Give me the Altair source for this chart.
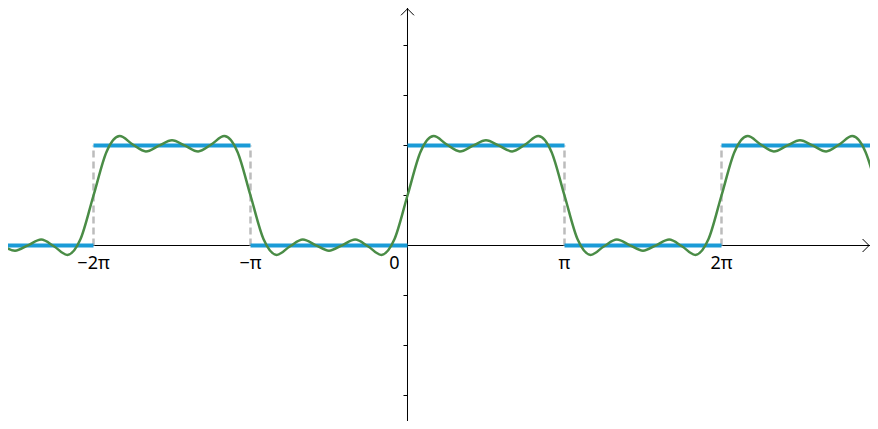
import altair as alt
import pandas as pd

# ---- data (x in units of pi) ----
# Fourier partial sum of the square wave, read at every pi/12 from -31/12 pi to 3 pi
curve_x = [k / 12 for k in range(-31, 37)]
curve_y = [
    0.002, -0.052, 0.002, 0.059, -0.010, -0.094, 0.062,
    0.5, 0.938, 1.094, 1.010, 0.941, 0.998, 1.052, 0.998, 0.941, 1.010, 1.094, 0.938,
    0.5, 0.062, -0.094, -0.010, 0.059, 0.002, -0.052, 0.002, 0.059, -0.010, -0.094, 0.062,
    0.5, 0.938, 1.094, 1.010, 0.941, 0.998, 1.052, 0.998, 0.941, 1.010, 1.094, 0.938,
    0.5, 0.062, -0.094, -0.010, 0.059, 0.002, -0.052, 0.002, 0.059, -0.010, -0.094, 0.062,
    0.5, 0.938, 1.094, 1.010, 0.941, 0.998, 1.052, 0.998, 0.941, 1.010, 1.094, 0.938,
    0.5,
]

# square wave pieces
seg_start = [-2.7, -2, -1, 0, 1, 2]
seg_end = [-2, -1, 0, 1, 2, 3.1]
seg_level = [0, 1, 0, 1, 0, 1]

# jumps (dashed)
jump_x = [-2, -1, 1, 2]

# axis labels
tick_x = [-2, -1, 1, 2]
tick_labels = ["−2π", "−π", "π", "2π"]
ytick_vals = [-1.5, -1.0, -0.5, 0.5, 1.0, 1.5, 2.0]

XDOM = [-2.5446, 2.9459]
YDOM = [-1.755, 2.375]

xs = alt.Scale(domain=XDOM, nice=False, zero=False)
ys = alt.Scale(domain=YDOM, nice=False, zero=False)

curve_df = pd.DataFrame({"x": curve_x, "y": curve_y})
seg_df = pd.DataFrame({"x": seg_start, "x2": seg_end, "y": seg_level})
jump_df = pd.DataFrame({"x": jump_x, "y": [0] * len(jump_x), "y2": [1] * len(jump_x)})
lab_df = pd.DataFrame({"x": tick_x, "y": [0] * len(tick_x), "t": tick_labels})
ytick_df = pd.DataFrame({"x": [0] * len(ytick_vals), "y": ytick_vals})
zero_df = pd.DataFrame({"x": [0], "y": [0], "t": ["0"]})
arrow_x_df = pd.DataFrame({"x": [2.940], "y": [0]})
arrow_y_df = pd.DataFrame({"x": [0], "y": [2.367]})

X = lambda f="x": alt.X(f"{f}:Q", scale=xs, axis=None)
Y = lambda f="y": alt.Y(f"{f}:Q", scale=ys, axis=None)

xaxis = alt.Chart(zero_df).mark_rule(color="black", strokeWidth=1).encode(y=Y())
yaxis = alt.Chart(zero_df).mark_rule(color="black", strokeWidth=1).encode(x=X())

arrow_x = alt.Chart(arrow_x_df).mark_point(
    shape="M-1,-1L0,0L-1,1", filled=False, color="black", strokeWidth=1, size=169, opacity=1
).encode(x=X(), y=Y())
arrow_y = alt.Chart(arrow_y_df).mark_point(
    shape="M-1,1L0,0L1,1", filled=False, color="black", strokeWidth=1, size=169, opacity=1
).encode(x=X(), y=Y())

yticks = alt.Chart(ytick_df).mark_point(
    shape="M-1,0L0,0", filled=False, color="black", strokeWidth=1, size=64, opacity=1
).encode(x=X(), y=Y())

jumps = alt.Chart(jump_df).mark_rule(
    color="#bcbcbc", strokeWidth=2.5, strokeDash=[7, 4]
).encode(x=X(), y=Y(), y2="y2:Q")

segs = alt.Chart(seg_df).mark_rule(
    color="#1a9bd7", strokeWidth=4, strokeCap="butt", clip=True
).encode(x=X(), x2="x2:Q", y=Y())

curve = alt.Chart(curve_df).mark_line(
    color="#4a8c46", strokeWidth=2.5, interpolate="monotone", clip=True
).encode(x=X(), y=Y())

labels = alt.Chart(lab_df).mark_text(
    font="Noto Sans", fontSize=18, color="black", align="center", baseline="alphabetic", dy=23
).encode(x=X(), y=Y(), text="t:N")

zero_lab = alt.Chart(zero_df).mark_text(
    font="Noto Sans", fontSize=18, color="black", align="center", baseline="alphabetic", dy=23, dx=-13
).encode(x=X(), y=Y(), text="t:N")

chart = alt.layer(
    xaxis, yaxis, arrow_x, arrow_y, yticks, jumps, segs, curve, labels, zero_lab
).properties(
    width=862, height=413, autosize=alt.AutoSizeParams(type="none"), padding=0
).configure(background="white").configure_view(stroke=None, strokeWidth=0)

chart.save("out.html", embed_options={"renderer": "svg", "actions": False})
